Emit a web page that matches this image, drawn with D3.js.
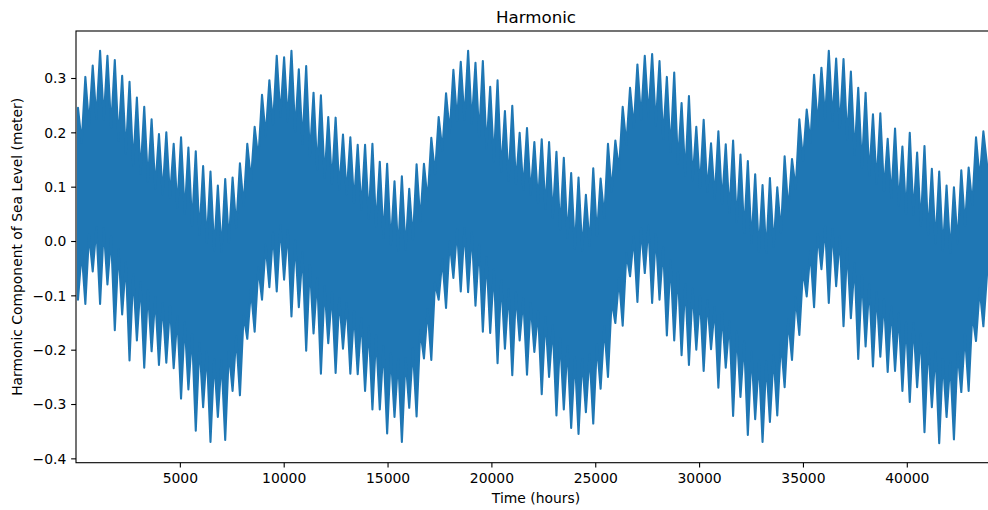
<!DOCTYPE html>
<html>
<head>
<meta charset="utf-8">
<script src="https://cdn.jsdelivr.net/npm/d3@7"></script>
<style>
  html, body { margin: 0; padding: 0; background: #fff; }
  svg { display: block; font-family: "DejaVu Sans", sans-serif; }
</style>
</head>
<body>
<svg id="chart" width="988" height="510"></svg>
<script>
// Harmonic (tidal) component of sea level, hourly record, summarised by its envelope:
// one spring-tide high / low per spring-neap cycle, and the neap-tide envelope between them.
const firstSpringHour = 96;      // hour of the first spring tide in the record
const springNeapHours = 354.4;   // spring-neap cycle length (hours)

// Spring-tide highest levels (m), one per cycle
const springHigh = [
  0.245, 0.302, 0.323, 0.350, 0.341, 0.333, 0.304, 0.293, 0.264, 0.247,
  0.224, 0.197, 0.200, 0.179, 0.191, 0.172, 0.165, 0.138, 0.128, 0.102,
  0.114, 0.117, 0.143, 0.179, 0.210, 0.269, 0.296, 0.341, 0.338, 0.350,
  0.316, 0.322, 0.273, 0.268, 0.228, 0.227, 0.196, 0.191, 0.177, 0.177,
  0.179, 0.146, 0.142, 0.110, 0.119, 0.096, 0.141, 0.142, 0.190, 0.228,
  0.272, 0.315, 0.330, 0.350, 0.328, 0.331, 0.284, 0.296, 0.239, 0.249,
  0.199, 0.208, 0.182, 0.187, 0.182, 0.164, 0.153, 0.125, 0.117, 0.085,
  0.134, 0.115, 0.179, 0.185, 0.247, 0.282, 0.325, 0.341, 0.344, 0.331,
  0.302, 0.310, 0.254, 0.267, 0.210, 0.223, 0.180, 0.202, 0.178, 0.185,
  0.159, 0.147, 0.123, 0.103, 0.116, 0.099, 0.156, 0.151, 0.224, 0.242,
  0.306, 0.319, 0.350, 0.336, 0.335, 0.312, 0.282, 0.273, 0.233, 0.235,
  0.188, 0.207, 0.174, 0.199, 0.163, 0.175, 0.133, 0.128, 0.102, 0.099,
  0.130, 0.135, 0.191, 0.202
];

// Spring-tide lowest levels (m), one per cycle
const springLow = [
  -0.108, -0.116, -0.056, -0.116, -0.080, -0.164, -0.135, -0.220, -0.183, -0.233,
  -0.203, -0.228, -0.224, -0.234, -0.290, -0.273, -0.349, -0.306, -0.370, -0.324,
  -0.366, -0.276, -0.284, -0.180, -0.167, -0.108, -0.085, -0.093, -0.071, -0.139,
  -0.122, -0.202, -0.170, -0.244, -0.188, -0.243, -0.198, -0.244, -0.245, -0.276,
  -0.310, -0.310, -0.354, -0.324, -0.370, -0.307, -0.323, -0.216, -0.219, -0.108,
  -0.123, -0.068, -0.093, -0.094, -0.119, -0.167, -0.169, -0.225, -0.198, -0.247,
  -0.183, -0.246, -0.204, -0.282, -0.250, -0.321, -0.310, -0.344, -0.355, -0.315,
  -0.336, -0.272, -0.250, -0.151, -0.156, -0.065, -0.112, -0.059, -0.114, -0.108,
  -0.174, -0.183, -0.210, -0.228, -0.200, -0.239, -0.199, -0.270, -0.233, -0.322,
  -0.287, -0.357, -0.328, -0.370, -0.333, -0.321, -0.269, -0.219, -0.173, -0.102,
  -0.122, -0.052, -0.114, -0.083, -0.157, -0.142, -0.217, -0.194, -0.231, -0.213,
  -0.241, -0.239, -0.276, -0.296, -0.269, -0.352, -0.306, -0.372, -0.324, -0.365,
  -0.278, -0.276, -0.184, -0.157
];

// Neap-tide highest levels (m), following each spring tide
const neapHigh = [
  0.181, 0.213, 0.225, 0.224, 0.208, 0.185, 0.161, 0.139, 0.124, 0.109,
  0.097, 0.086, 0.080, 0.061, 0.050, 0.029, 0.012, -0.003, -0.017, -0.019,
  -0.003, 0.025, 0.064, 0.111, 0.151, 0.193, 0.215, 0.229, 0.220, 0.201,
  0.179, 0.156, 0.132, 0.116, 0.106, 0.095, 0.086, 0.070, 0.058, 0.042,
  0.026, 0.006, -0.007, -0.017, -0.016, 0.002, 0.036, 0.074, 0.123, 0.167,
  0.199, 0.221, 0.223, 0.216, 0.193, 0.170, 0.147, 0.128, 0.111, 0.105,
  0.094, 0.085, 0.071, 0.059, 0.044, 0.021, 0.006, -0.014, -0.017, -0.008,
  0.010, 0.043, 0.091, 0.131, 0.177, 0.208, 0.224, 0.228, 0.213, 0.188,
  0.164, 0.143, 0.121, 0.112, 0.098, 0.091, 0.078, 0.069, 0.052, 0.034,
  0.015, -0.004, -0.019, -0.022, -0.010, 0.016, 0.055, 0.096, 0.148, 0.181,
  0.213, 0.226, 0.222, 0.208, 0.187, 0.159, 0.136, 0.120, 0.106, 0.092,
  0.079, 0.066, 0.050, 0.049, 0.029, 0.012, -0.004, -0.017, -0.022, -0.004,
  0.028, 0.066, 0.113, 0.140
];

// Neap-tide lowest levels (m), following each spring tide
const neapLow = [
  -0.019, 0.013, 0.025, 0.024, 0.008, -0.015, -0.039, -0.061, -0.076, -0.091,
  -0.103, -0.114, -0.120, -0.139, -0.150, -0.171, -0.188, -0.203, -0.217, -0.219,
  -0.203, -0.175, -0.136, -0.089, -0.049, -0.007, 0.015, 0.029, 0.020, 0.001,
  -0.021, -0.044, -0.068, -0.084, -0.094, -0.105, -0.114, -0.130, -0.142, -0.158,
  -0.174, -0.194, -0.207, -0.217, -0.216, -0.198, -0.164, -0.126, -0.077, -0.033,
  -0.001, 0.021, 0.023, 0.016, -0.007, -0.030, -0.053, -0.072, -0.089, -0.095,
  -0.106, -0.115, -0.129, -0.141, -0.156, -0.179, -0.194, -0.214, -0.217, -0.208,
  -0.190, -0.157, -0.109, -0.069, -0.023, 0.008, 0.024, 0.028, 0.013, -0.012,
  -0.036, -0.057, -0.079, -0.088, -0.102, -0.109, -0.122, -0.131, -0.148, -0.166,
  -0.185, -0.204, -0.219, -0.222, -0.210, -0.184, -0.145, -0.104, -0.052, -0.019,
  0.013, 0.026, 0.022, 0.008, -0.013, -0.041, -0.064, -0.080, -0.094, -0.108,
  -0.121, -0.134, -0.150, -0.151, -0.171, -0.188, -0.204, -0.217, -0.222, -0.204,
  -0.172, -0.134, -0.087, -0.060
];

const xTicks = [5000, 10000, 15000, 20000, 25000, 30000, 35000, 40000];
const yTicks = [-0.4, -0.3, -0.2, -0.1, 0.0, 0.1, 0.2, 0.3];
const xDomain = [0, 44295];
const yDomain = [-0.408, 0.3865];

const titleText = "Harmonic";
const xLabelText = "Time (hours)";
const yLabelText = "Harmonic Component of Sea Level (meter)";

// ---- layout ----
const plot = { left: 76, top: 31, right: 996, bottom: 462.7 };
const lineColor = "#1f77b4";
const tickLen = 4.86, tickPad = 4.86, fontPx = 13.9;

const svg = d3.select("#chart");

const x = d3.scaleLinear().domain(xDomain).range([plot.left, plot.right]);
const y = d3.scaleLinear().domain(yDomain).range([plot.bottom, plot.top]);

// Envelope samples: spring extreme, then the neap half a cycle later
const samples = [];
springHigh.forEach((hi, i) => {
  const t = firstSpringHour + springNeapHours * i;
  samples.push({ t, hi, lo: springLow[i] });
  samples.push({ t: t + springNeapHours / 2, hi: neapHigh[i], lo: neapLow[i] });
});

svg.append("defs").append("clipPath").attr("id", "plot-clip")
  .append("rect")
  .attr("x", plot.left).attr("y", plot.top)
  .attr("width", plot.right - plot.left).attr("height", plot.bottom - plot.top);

const area = d3.area()
  .x(d => x(d.t))
  .y0(d => y(d.lo))
  .y1(d => y(d.hi))
  .curve(d3.curveLinear);

svg.append("g").attr("clip-path", "url(#plot-clip)")
  .append("path")
  .datum(samples)
  .attr("d", area)
  .attr("fill", lineColor)
  .attr("stroke", lineColor)
  .attr("stroke-width", 2.08)
  .attr("stroke-linejoin", "round");

// ---- axes ----
const xAxis = d3.axisBottom(x)
  .tickValues(xTicks)
  .tickFormat(d3.format("d"))
  .tickSize(tickLen)
  .tickPadding(tickPad);

const yAxis = d3.axisLeft(y)
  .tickValues(yTicks)
  .tickFormat(d3.format(".1f"))
  .tickSize(tickLen)
  .tickPadding(tickPad);

const gx = svg.append("g").attr("transform", `translate(0,${plot.bottom})`).call(xAxis);
const gy = svg.append("g").attr("transform", `translate(${plot.left},0)`).call(yAxis);

[gx, gy].forEach(g => {
  g.select(".domain").remove();
  g.selectAll(".tick line").attr("stroke", "#000").attr("stroke-width", 1.1);
  g.selectAll(".tick text")
    .attr("fill", "#000")
    .style("font-family", "'DejaVu Sans', sans-serif")
    .style("font-size", fontPx + "px");
});
gx.selectAll(".tick text").attr("dy", "0.78em");
gy.selectAll(".tick text").attr("dy", "0.35em");

// spines
svg.append("rect")
  .attr("x", plot.left).attr("y", plot.top)
  .attr("width", plot.right - plot.left).attr("height", plot.bottom - plot.top)
  .attr("fill", "none").attr("stroke", "#000").attr("stroke-width", 1.1);

// ---- labels ----
const midX = (plot.left + plot.right) / 2;
svg.append("text")
  .attr("x", midX).attr("y", 23)
  .attr("text-anchor", "middle")
  .style("font-size", "16.67px")
  .attr("fill", "#000")
  .text(titleText);

svg.append("text")
  .attr("x", midX).attr("y", 503)
  .attr("text-anchor", "middle")
  .style("font-size", fontPx + "px")
  .attr("fill", "#000")
  .text(xLabelText);

svg.append("text")
  .attr("transform", `translate(21.5,${(plot.top + plot.bottom) / 2}) rotate(-90)`)
  .attr("text-anchor", "middle")
  .style("font-size", fontPx + "px")
  .attr("fill", "#000")
  .text(yLabelText);
</script>
</body>
</html>
